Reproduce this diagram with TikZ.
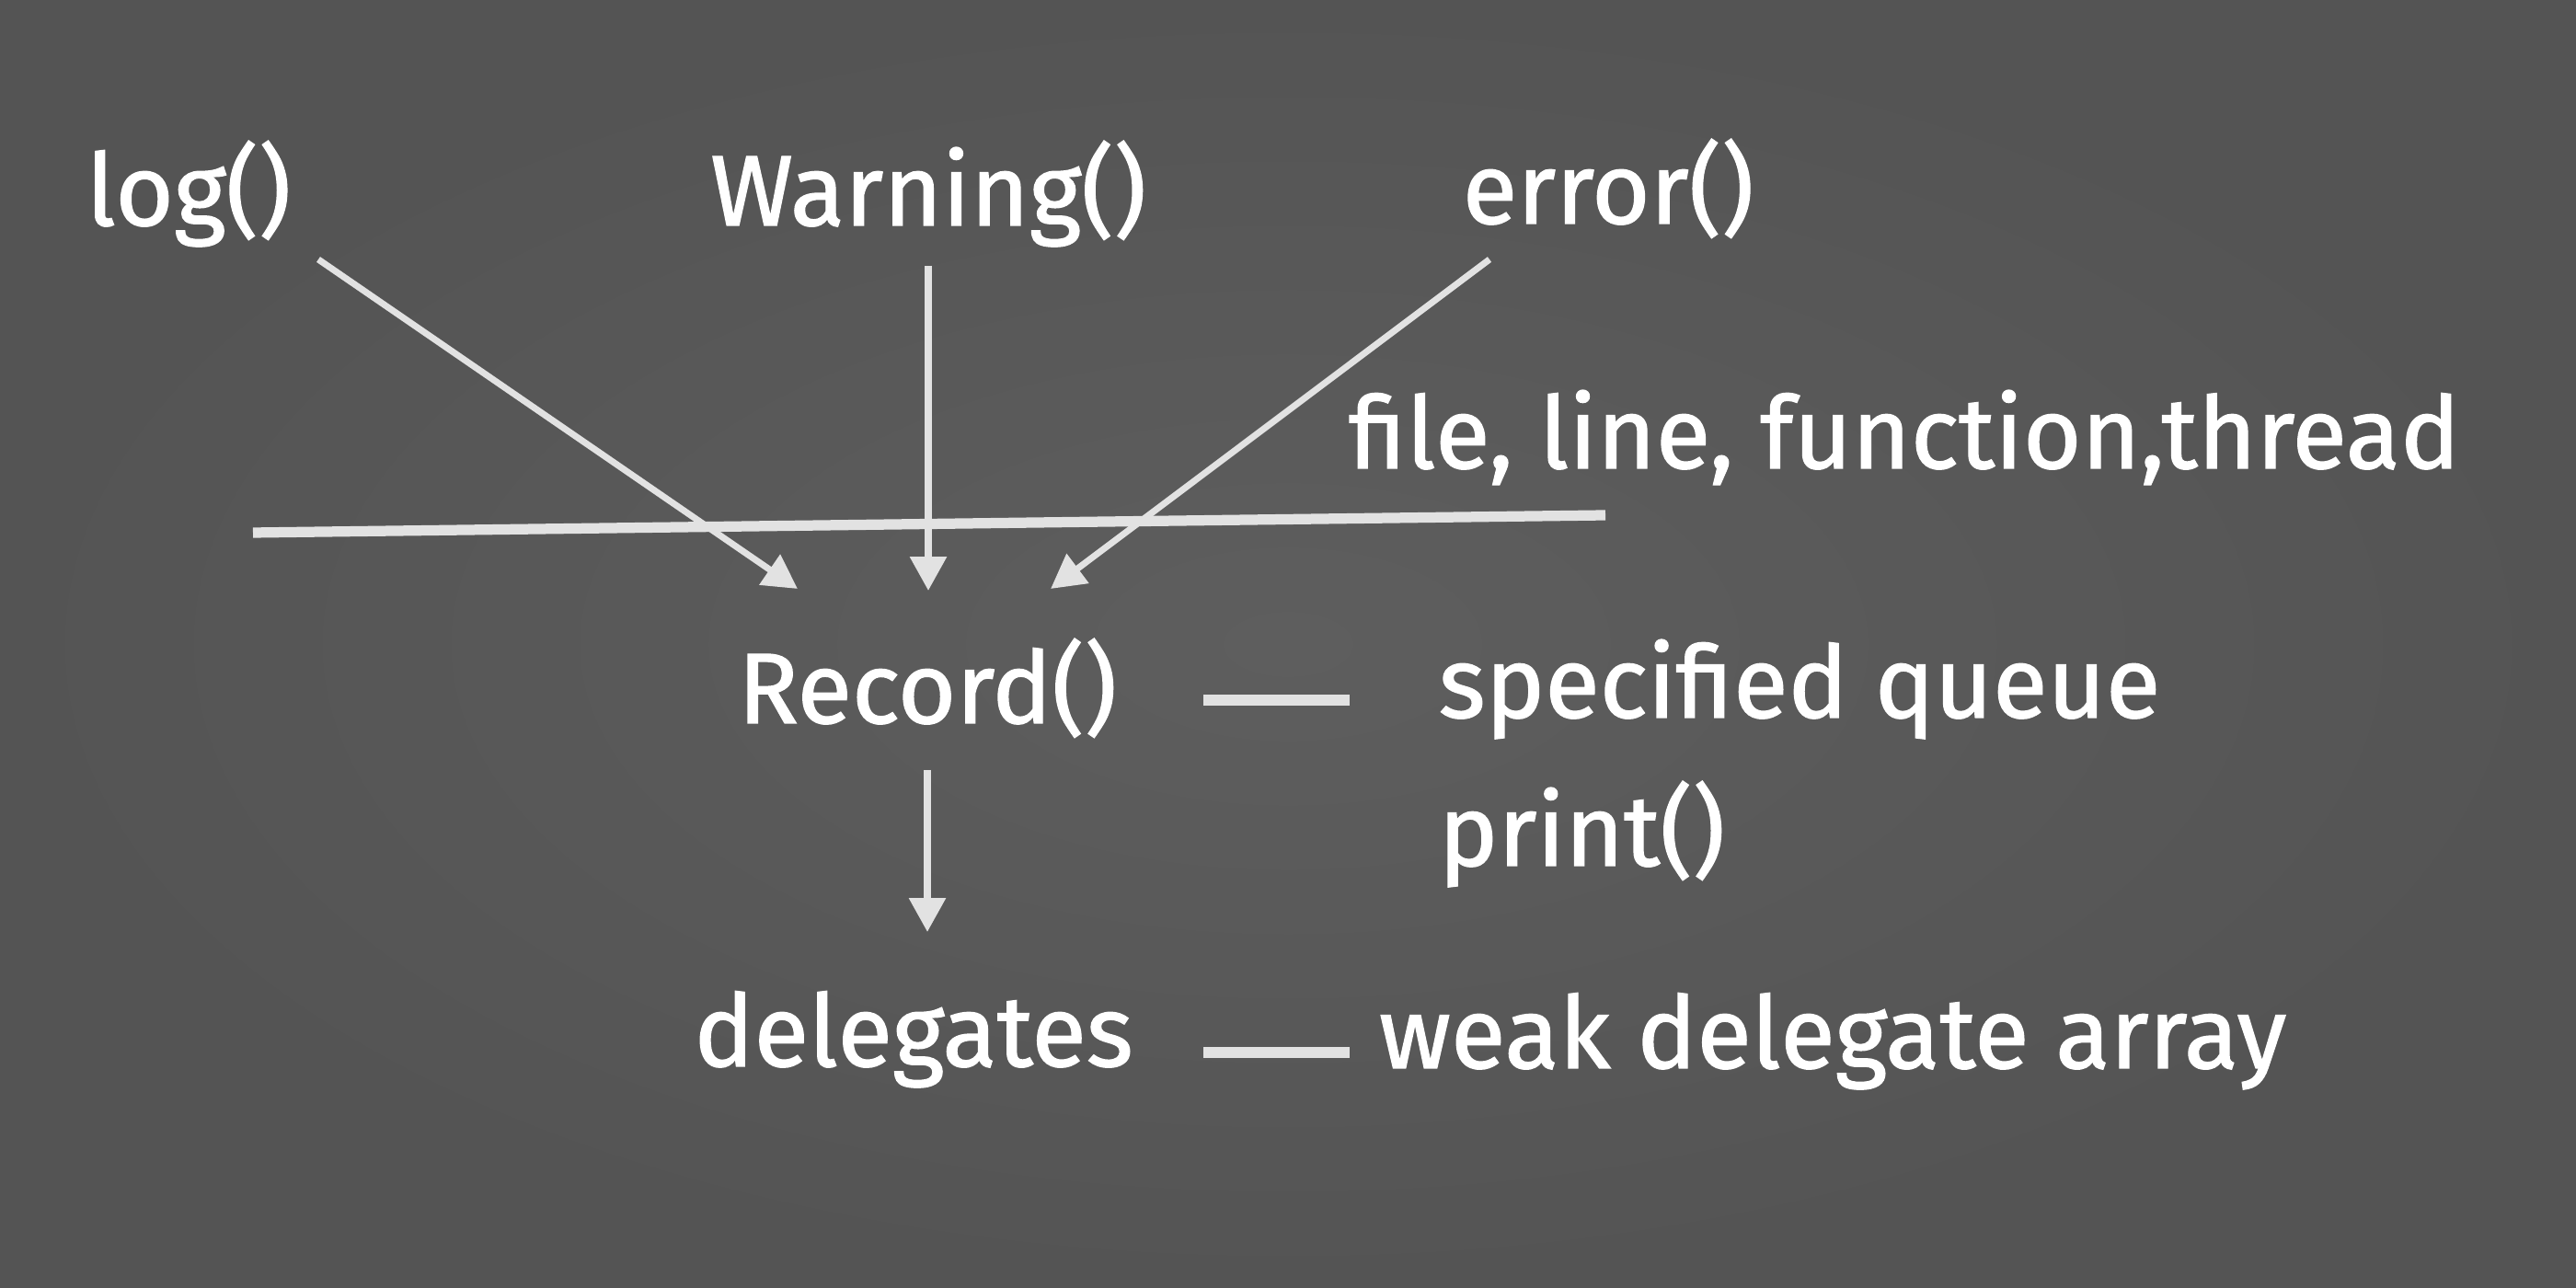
\documentclass[tikz,border=0pt]{standalone}
\usepackage{fontspec}
\setmainfont{Fira Sans}
\newfontfamily\chalkfont{Fira Sans}[FakeBold=1.2]
\usetikzlibrary{arrows.meta}
\definecolor{bgin}{RGB}{94,94,94}
\definecolor{bgout}{RGB}{84,84,84}
\definecolor{chalk}{RGB}{226,226,226}
\begin{document}
\begin{tikzpicture}[
  lbl/.style={text=white, inner sep=0pt, anchor=base, font=\chalkfont\fontsize{31}{37}\selectfont},
  arr/.style={draw=chalk, line width=2pt, -{Triangle[width=11pt,length=10.5pt]}},
  bar/.style={draw=chalk, line width=3.2pt}
]
\useasboundingbox (0,0) rectangle (28,14);
\fill[inner color=bgin, outer color=bgout] (0,0) rectangle (28,14);

% text nodes
\node[lbl] (log)  at (2.05,11.55) {log()};
\node[lbl] (warn) at (10.09,11.55) {Warning()};
\node[lbl] (err)  at (17.48,11.57) {error()};
\node[lbl] (info) at (20.70,8.91) {file, line, function,thread};
\node[lbl] (rec)  at (10.08,6.14) {Record()};
\node[lbl, anchor=base west] (sq) at (15.63,6.20) {specified queue};
\node[lbl, anchor=base west] (pr) at (15.63,4.59) {print()};
\node[lbl] (del)  at (9.93,2.41) {delegates};
\node[lbl] (weak) at (19.92,2.39) {weak delegate array};

% connector end points
\coordinate (s1) at (3.46,11.18);
\coordinate (t1) at (8.67,7.60);
\coordinate (s2) at (10.09,11.11);
\coordinate (t2) at (10.09,7.58);
\coordinate (s3) at (16.19,11.18);
\coordinate (t3) at (11.42,7.60);
\coordinate (h1) at (2.75,8.21);
\coordinate (h2) at (17.45,8.40);
\coordinate (s4) at (10.08,5.63);
\coordinate (t4) at (10.08,3.87);
\coordinate (d1a) at (13.08,6.39);
\coordinate (d1b) at (14.67,6.39);
\coordinate (d2a) at (13.08,2.56);
\coordinate (d2b) at (14.67,2.56);

% horizontal separator
\draw[bar] (h1) -- (h2);

% arrows into Record()
\draw[arr] (s1) -- (t1);
\draw[arr] (s2) -- (t2);
\draw[arr] (s3) -- (t3);

% Record() -> delegates
\draw[arr] (s4) -- (t4);

% dashes
\draw[bar] (d1a) -- (d1b);
\draw[bar] (d2a) -- (d2b);
\end{tikzpicture}
\end{document}
